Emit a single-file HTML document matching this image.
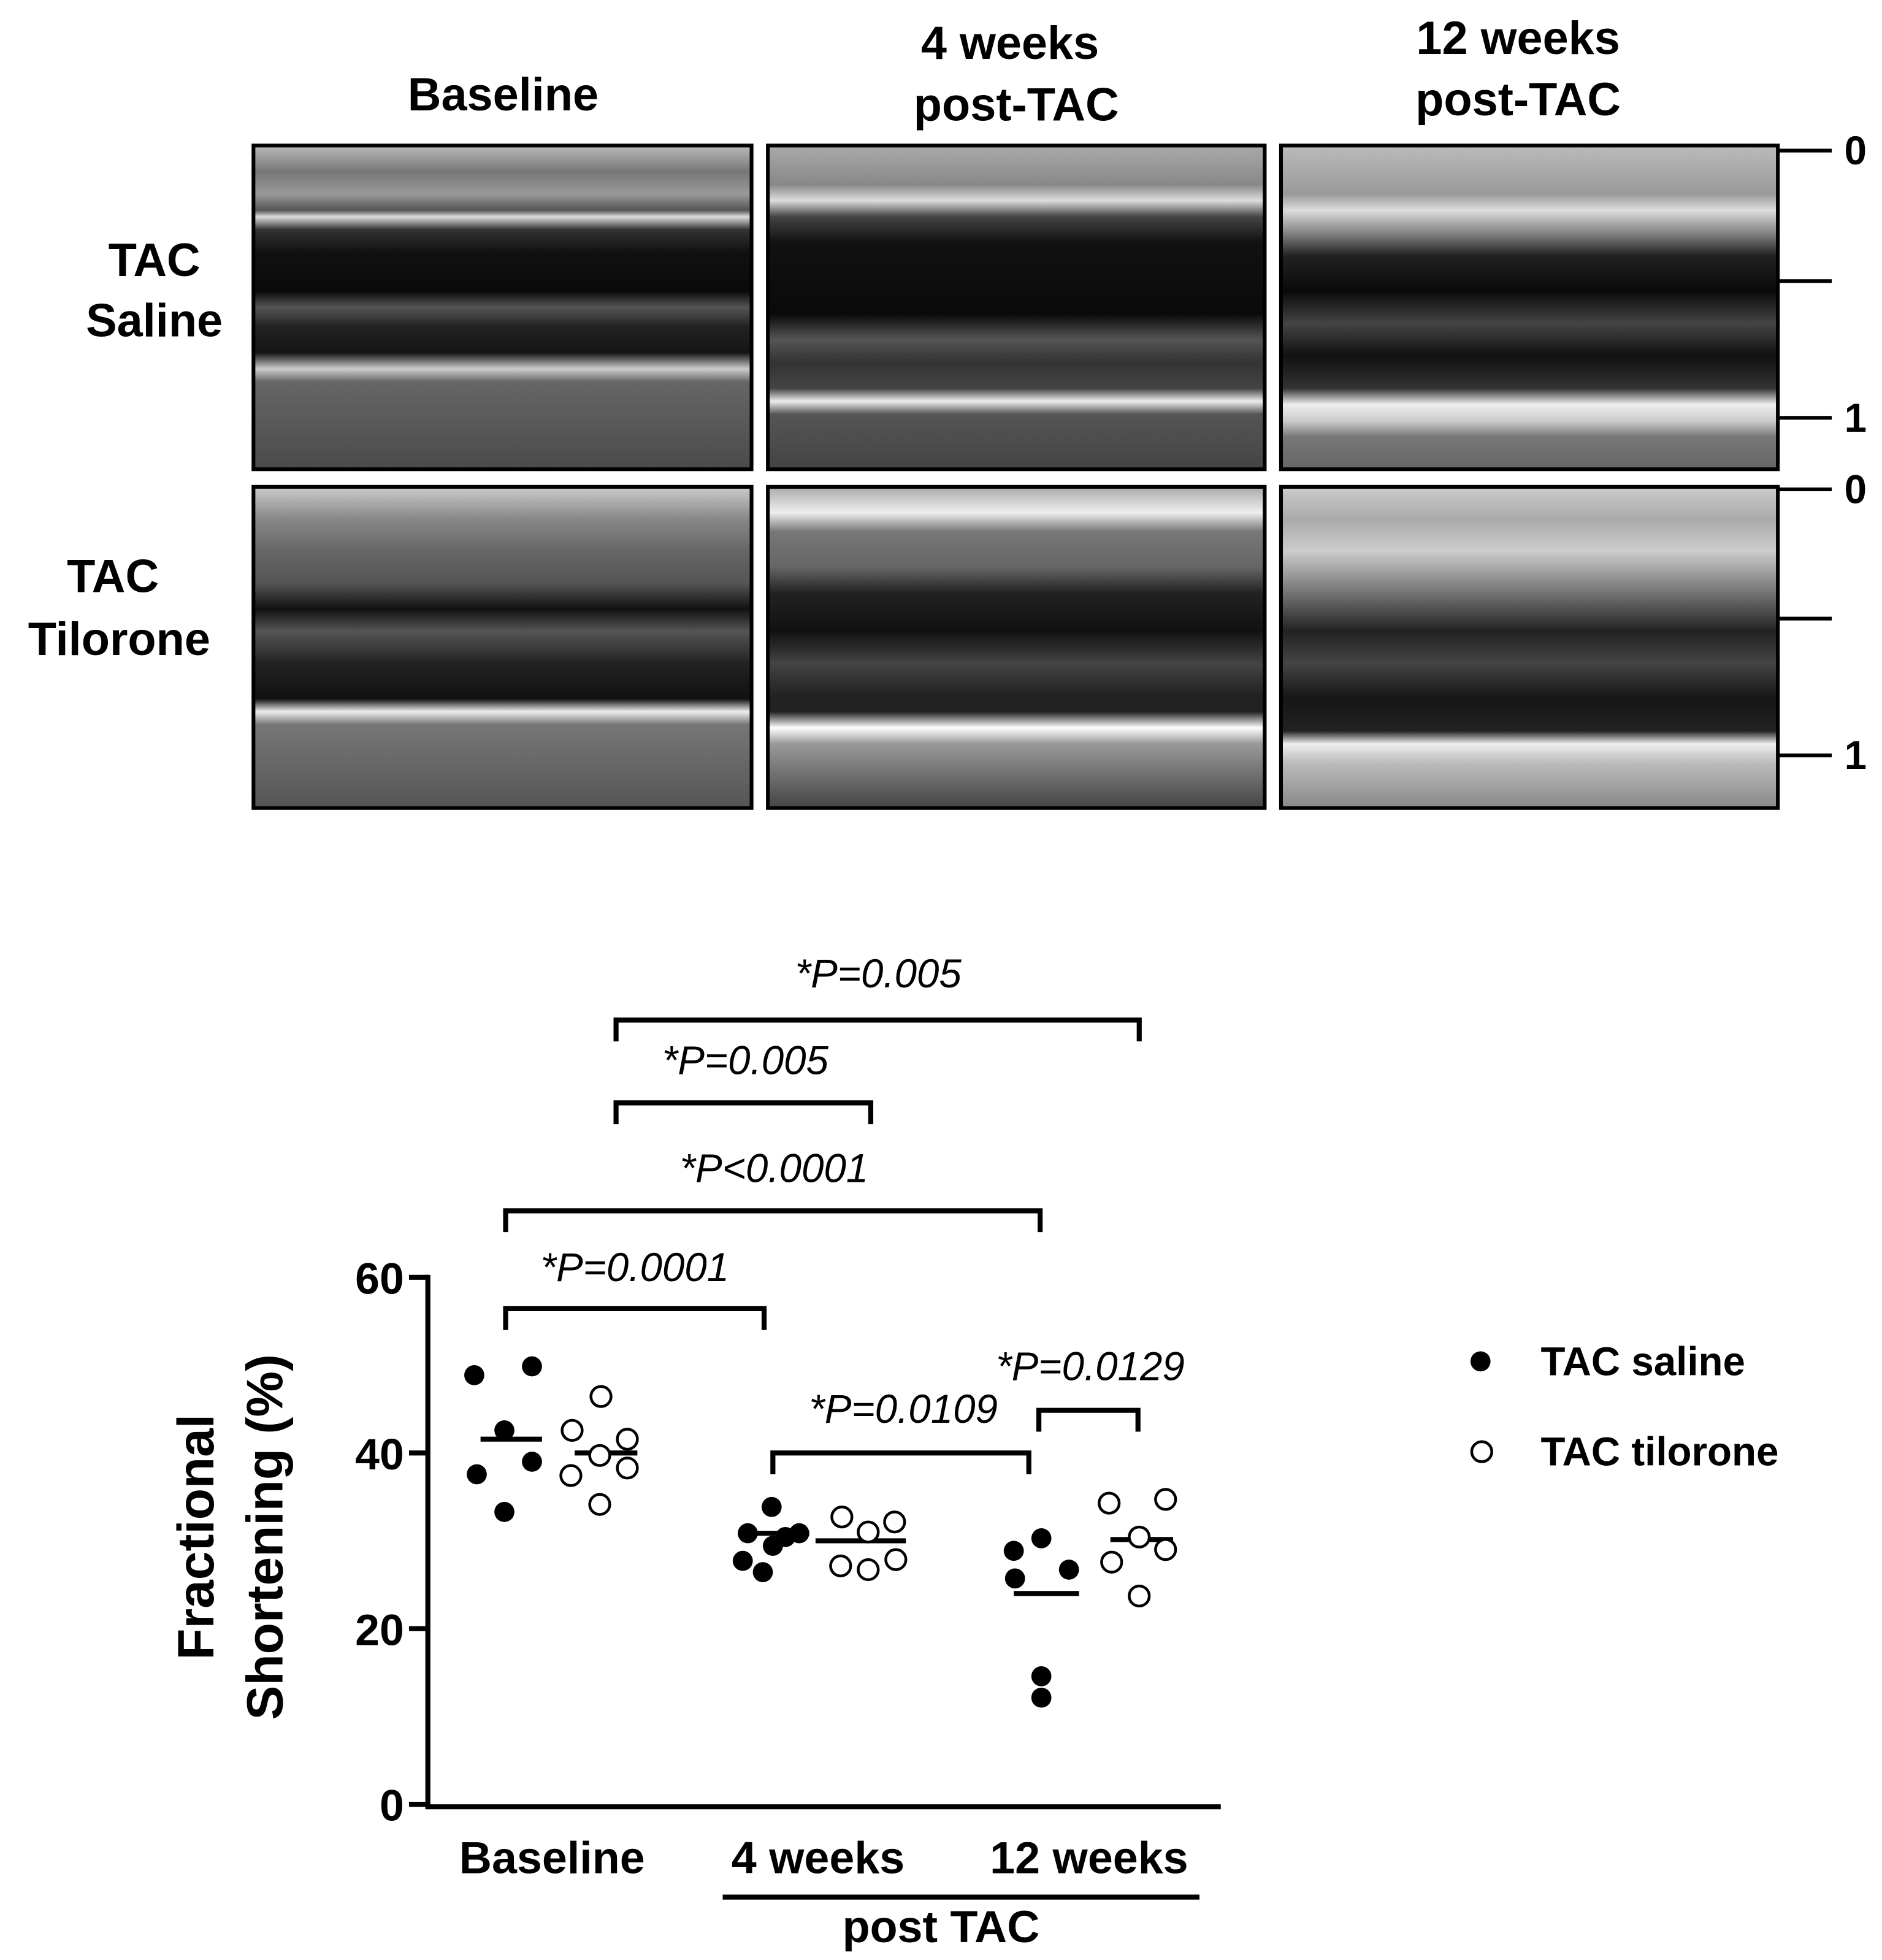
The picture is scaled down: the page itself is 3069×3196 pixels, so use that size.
<!DOCTYPE html>
<html><head><meta charset="utf-8"><style>html,body{margin:0;padding:0;background:#fff}svg{display:block}</style></head>
<body>
<svg xmlns="http://www.w3.org/2000/svg" width="3069" height="3196" viewBox="0 0 1500 1562.1" font-family="Liberation Sans, Arial, sans-serif">
<defs>
<linearGradient id="e1" x1="0" y1="0" x2="0" y2="1">
<stop offset="0" stop-color="#bbb"/><stop offset="0.08" stop-color="#777"/><stop offset="0.15" stop-color="#999"/><stop offset="0.2" stop-color="#555"/><stop offset="0.22" stop-color="#ddd"/><stop offset="0.26" stop-color="#333"/><stop offset="0.33" stop-color="#111"/><stop offset="0.45" stop-color="#0a0a0a"/><stop offset="0.5" stop-color="#555"/><stop offset="0.56" stop-color="#222"/><stop offset="0.64" stop-color="#151515"/><stop offset="0.69" stop-color="#ccc"/><stop offset="0.73" stop-color="#666"/><stop offset="1" stop-color="#4a4a4a"/></linearGradient>
<linearGradient id="e2" x1="0" y1="0" x2="0" y2="1">
<stop offset="0" stop-color="#aaa"/><stop offset="0.12" stop-color="#888"/><stop offset="0.17" stop-color="#ddd"/><stop offset="0.22" stop-color="#444"/><stop offset="0.3" stop-color="#111"/><stop offset="0.52" stop-color="#0a0a0a"/><stop offset="0.6" stop-color="#555"/><stop offset="0.67" stop-color="#333"/><stop offset="0.75" stop-color="#444"/><stop offset="0.79" stop-color="#eee"/><stop offset="0.83" stop-color="#555"/><stop offset="1" stop-color="#444"/></linearGradient>
<linearGradient id="e3" x1="0" y1="0" x2="0" y2="1">
<stop offset="0" stop-color="#bbb"/><stop offset="0.15" stop-color="#999"/><stop offset="0.2" stop-color="#ddd"/><stop offset="0.28" stop-color="#777"/><stop offset="0.34" stop-color="#222"/><stop offset="0.45" stop-color="#0a0a0a"/><stop offset="0.55" stop-color="#444"/><stop offset="0.65" stop-color="#111"/><stop offset="0.75" stop-color="#333"/><stop offset="0.8" stop-color="#eee"/><stop offset="0.85" stop-color="#ccc"/><stop offset="0.9" stop-color="#777"/><stop offset="1" stop-color="#666"/></linearGradient>
<linearGradient id="e4" x1="0" y1="0" x2="0" y2="1">
<stop offset="0" stop-color="#ccc"/><stop offset="0.1" stop-color="#888"/><stop offset="0.2" stop-color="#666"/><stop offset="0.3" stop-color="#555"/><stop offset="0.38" stop-color="#111"/><stop offset="0.45" stop-color="#555"/><stop offset="0.55" stop-color="#222"/><stop offset="0.66" stop-color="#111"/><stop offset="0.7" stop-color="#eee"/><stop offset="0.74" stop-color="#777"/><stop offset="1" stop-color="#555"/></linearGradient>
<linearGradient id="e5" x1="0" y1="0" x2="0" y2="1">
<stop offset="0" stop-color="#aaa"/><stop offset="0.08" stop-color="#eee"/><stop offset="0.14" stop-color="#777"/><stop offset="0.25" stop-color="#666"/><stop offset="0.33" stop-color="#222"/><stop offset="0.45" stop-color="#111"/><stop offset="0.55" stop-color="#444"/><stop offset="0.65" stop-color="#222"/><stop offset="0.7" stop-color="#222"/><stop offset="0.75" stop-color="#fff"/><stop offset="0.8" stop-color="#999"/><stop offset="1" stop-color="#444"/></linearGradient>
<linearGradient id="e6" x1="0" y1="0" x2="0" y2="1">
<stop offset="0" stop-color="#ccc"/><stop offset="0.1" stop-color="#aaa"/><stop offset="0.2" stop-color="#ccc"/><stop offset="0.35" stop-color="#666"/><stop offset="0.45" stop-color="#222"/><stop offset="0.55" stop-color="#444"/><stop offset="0.66" stop-color="#151515"/><stop offset="0.76" stop-color="#222"/><stop offset="0.8" stop-color="#eee"/><stop offset="0.86" stop-color="#bbb"/><stop offset="1" stop-color="#888"/></linearGradient>
</defs>
<g font-weight="bold" font-size="37" text-anchor="middle" fill="#000">
<text x="401" y="88">Baseline</text>
<text x="805" y="47">4 weeks</text><text x="810" y="96">post-TAC</text>
<text x="1210" y="43">12 weeks</text><text x="1210" y="92">post-TAC</text>
<text x="123" y="220">TAC</text><text x="123" y="268">Saline</text>
<text x="90" y="472">TAC</text><text x="95" y="522">Tilorone</text>
</g>
<g stroke="#000" stroke-width="3">
<rect x="202" y="116" width="397" height="258" fill="url(#e1)"/>
<rect x="612" y="116" width="396" height="258" fill="url(#e2)"/>
<rect x="1021" y="116" width="396" height="258" fill="url(#e3)"/>
<rect x="202" y="388" width="397" height="256" fill="url(#e4)"/>
<rect x="612" y="388" width="396" height="256" fill="url(#e5)"/>
<rect x="1021" y="388" width="396" height="256" fill="url(#e6)"/>
<path d="M1418 120H1460M1418 224H1460M1418 333H1460M1418 390H1460M1418 493H1460M1418 602H1460"/>
</g>
<g font-weight="bold" font-size="32" fill="#000">
<text x="1470" y="131">0</text><text x="1470" y="344">1</text>
<text x="1470" y="401">0</text><text x="1470" y="613">1</text>
</g>
<g stroke="#000" stroke-width="4" fill="none">
<path d="M341 1016V1440H973"/>
<path d="M326 1018H341M326 1158H341M326 1298H341M326 1438H341"/>
<path d="M403 1060V1043H609V1060"/>
<path d="M403 982V965H829V982"/>
<path d="M491 896V879H694V896"/>
<path d="M491 830V813H908V830"/>
<path d="M616 1175V1158H820V1175"/>
<path d="M828 1141V1124H907V1141"/>
<path d="M576 1512H956"/>
<path d="M383 1147H432M458 1158H508M596 1222H645M650 1228H722M808 1270H860M885 1227H935"/>
</g>
<g font-weight="bold" font-size="35" fill="#000" text-anchor="end">
<text x="322" y="1031">60</text><text x="322" y="1171">40</text><text x="322" y="1311">20</text><text x="322" y="1451">0</text>
</g>
<g font-style="italic" font-size="32" fill="#000" text-anchor="middle">
<text x="506" y="1021">*P=0.0001</text>
<text x="617" y="942">*P&lt;0.0001</text>
<text x="594" y="856">*P=0.005</text>
<text x="700" y="787">*P=0.005</text>
<text x="720" y="1134">*P=0.0109</text>
<text x="869" y="1100">*P=0.0129</text>
</g>
<g fill="#000">
<circle cx="378" cy="1096" r="8"/><circle cx="424" cy="1089" r="8"/><circle cx="402" cy="1140" r="8"/><circle cx="380" cy="1175" r="8"/><circle cx="424" cy="1165" r="8"/><circle cx="402" cy="1205" r="8"/>
<circle cx="615" cy="1201" r="8"/><circle cx="596" cy="1222" r="8"/><circle cx="637" cy="1222" r="8"/><circle cx="616" cy="1232" r="8"/><circle cx="592" cy="1244" r="8"/><circle cx="608" cy="1253" r="8"/><circle cx="626" cy="1225" r="8"/>
<circle cx="830" cy="1226" r="8"/><circle cx="808" cy="1236" r="8"/><circle cx="852" cy="1251" r="8"/><circle cx="809" cy="1258" r="8"/><circle cx="830" cy="1336" r="8"/><circle cx="830" cy="1353" r="8"/>
<circle cx="1180" cy="1085" r="8"/>
</g>
<g fill="#fff" stroke="#000" stroke-width="2.2">
<circle cx="479" cy="1113" r="8"/><circle cx="456" cy="1140" r="8"/><circle cx="500" cy="1147" r="8"/><circle cx="478" cy="1160" r="8"/><circle cx="455" cy="1176" r="8"/><circle cx="500" cy="1170" r="8"/><circle cx="478" cy="1199" r="8"/>
<circle cx="671" cy="1209" r="8"/><circle cx="692" cy="1221" r="8"/><circle cx="713" cy="1213" r="8"/><circle cx="670" cy="1248" r="8"/><circle cx="692" cy="1251" r="8"/><circle cx="714" cy="1243" r="8"/>
<circle cx="884" cy="1198" r="8"/><circle cx="929" cy="1195" r="8"/><circle cx="908" cy="1225" r="8"/><circle cx="886" cy="1245" r="8"/><circle cx="929" cy="1235" r="8"/><circle cx="908" cy="1272" r="8"/>
<circle cx="1181" cy="1157" r="8"/>
</g>
<g font-weight="bold" font-size="32" fill="#000">
<text x="1228" y="1096">TAC saline</text>
<text x="1228" y="1168">TAC tilorone</text>
</g>
<g font-weight="bold" font-size="36" fill="#000" text-anchor="middle">
<text x="440" y="1493">Baseline</text>
<text x="652" y="1493">4 weeks</text>
<text x="868" y="1493">12 weeks</text>
<text x="750" y="1548">post TAC</text>
</g>
<g font-weight="bold" font-size="41" fill="#000" text-anchor="middle">
<text transform="translate(170,1225) rotate(-90)">Fractional</text>
<text transform="translate(225,1225) rotate(-90)">Shortening (%)</text>
</g>
</svg>
</body></html>
